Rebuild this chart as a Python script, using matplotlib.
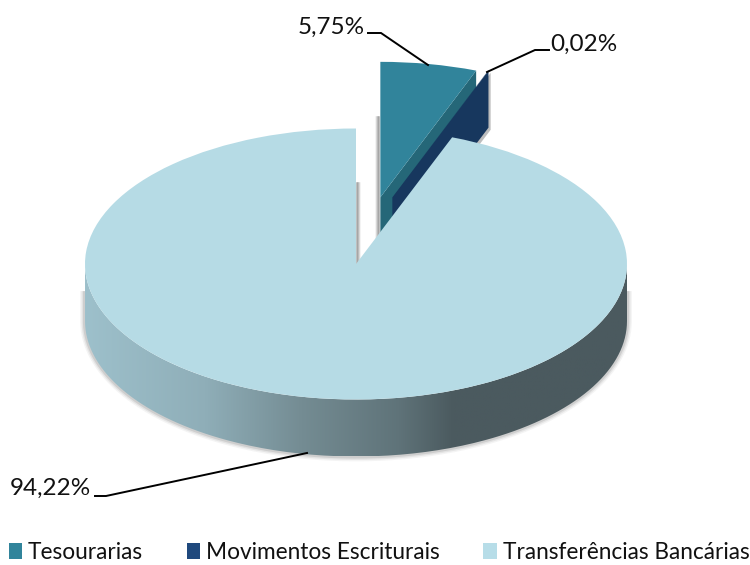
"""3D-style pie: share of payments by channel."""
import numpy as np
import matplotlib
matplotlib.use('Agg')
import matplotlib.pyplot as plt
from matplotlib.colors import LinearSegmentedColormap
from matplotlib.patches import Patch, PathPatch, Polygon
from matplotlib.path import Path
from matplotlib.transforms import Affine2D

categories = ['Tesourarias', 'Movimentos Escriturais', 'Transferências Bancárias']
shares = [5.75, 0.02, 94.22]
explode = [0.5, 0.5, 0]

top_colors = ['#31849B', '#17375E', '#B6DBE5']
face_colors = ['#256778', '#17375E']
legend_colors = ['#31849B', '#1F497D', '#B7DDE8']

plt.rcParams['font.family'] = ['Lato', 'DejaVu Sans']

W, H = 750, 565
CX, CY, RX, RY = 356, 264, 271, 135.5
DEPTH = 57 / RY

fig = plt.figure(figsize=(W / 100, H / 100), dpi=100)
ax = fig.add_axes([0, 0, 1, 1])
px = Affine2D().scale(1 / W, -1 / H).translate(0, 1) + fig.transFigure

wedges, _ = ax.pie(shares, explode=explode, colors=top_colors, startangle=90,
                   counterclock=False, wedgeprops=dict(linewidth=0))
ax.set_aspect('auto')
ax.axis('off')

# the sliver sits just right of the big exploded slice
wedges[1].set_center((wedges[0].center[0] + 12 / RX, wedges[0].center[1]))
wedges[0].set_zorder(5)
wedges[1].set_zorder(4.5)
wedges[2].set_zorder(10)


def cut_face(wedge, color, zorder):
    cx, cy = wedge.center
    t = np.radians(wedge.theta1)
    x, y = cx + np.cos(t), cy + np.sin(t)
    pts = [(cx, cy), (x, y), (x, y - DEPTH), (cx, cy - DEPTH)]
    ax.add_patch(Polygon(pts, closed=True, facecolor=color, edgecolor='none', zorder=zorder))
    return pts


# soft shadow under the sliver, then the cut faces
sliver_pts = cut_face(wedges[1], face_colors[1], 4)
shadow = [(x + 0.008, y - 0.016) for x, y in sliver_pts]
ax.add_patch(Polygon(shadow, closed=True, facecolor='#888888', alpha=0.55,
                     edgecolor='none', zorder=1))
cut_face(wedges[0], face_colors[0], 3)

# gray edges in the gap
for i, a in enumerate([0.65, 0.5, 0.3, 0.12]):
    ax.plot([356.5 + i + 0.5] * 2, [183, 266], color='#808080', alpha=a, lw=1.1, transform=px, zorder=2)
    ax.plot([379.5 - i - 0.5] * 2, [117, 240], color='#808080', alpha=a, lw=1.1, transform=px, zorder=2)

# outer wall with a horizontal gradient
theta = np.radians(np.linspace(180, 360, 200))
xs, ys = np.cos(theta), np.sin(theta)
wall_x = np.r_[xs, xs[::-1]]
wall_y = np.r_[ys - DEPTH, ys[::-1]]
wall_path = Path(np.c_[wall_x, wall_y])
wall_cmap = LinearSegmentedColormap.from_list(
    'wall', [(0, '#9DC0CB'), (0.22, '#8FAEB8'), (0.4, '#748C93'),
             (0.58, '#5F7379'), (0.68, '#4B5A5F'), (1, '#4B5A5F')])
img = ax.imshow(np.linspace(0, 1, 256).reshape(1, -1), cmap=wall_cmap, aspect='auto',
                extent=(-1, 1, -1 - DEPTH, 0), zorder=7)
img.set_clip_path(PathPatch(wall_path, transform=ax.transData))
ax.set_xlim(-CX / RX, (W - CX) / RX)
ax.set_ylim(-(H - CY) / RY, CY / RY)

# wall shadow, one continuous outline so the alpha does not double up
rim_x = np.r_[-1, xs, 1]
rim_y = np.r_[-0.2, ys - DEPTH, -0.2]
for lw, a in [(7, 0.08), (5, 0.12), (3, 0.2)]:
    ax.plot(rim_x, rim_y, color='#777777', alpha=a, lw=lw, zorder=6, solid_capstyle='butt')

# value labels and leaders
labels = [f'{v:.2f}'.replace('.', ',') + '%' for v in shares]
label_pos = [(331, 27), (584, 44), (50, 488)]
leaders = [([368, 381, 428], [33, 33, 65]),
           ([549, 535, 487], [50, 50, 72]),
           ([95, 106, 307], [496, 496, 453])]
for text, (x, y), (lx, ly) in zip(labels, label_pos, leaders):
    ax.text(x, y, text, transform=px, ha='center', va='center', fontsize=17.5, color='#111111', zorder=20)
    ax.plot(lx, ly, color='black', lw=1.4, transform=px, zorder=20, solid_joinstyle='miter')

handles = [Patch(facecolor=c, edgecolor='none') for c in legend_colors]
fig.legend(handles, categories, loc='lower left', bbox_to_anchor=(0.0055, -0.004), ncol=3, frameon=False,
           fontsize=16.3, handlelength=0.6, handleheight=0.7, handletextpad=0.25,
           columnspacing=1.93, borderpad=0.2, borderaxespad=0, labelcolor='#111111')

fig.savefig('out.png', dpi=100, facecolor='white')
print('OK: out.png')
